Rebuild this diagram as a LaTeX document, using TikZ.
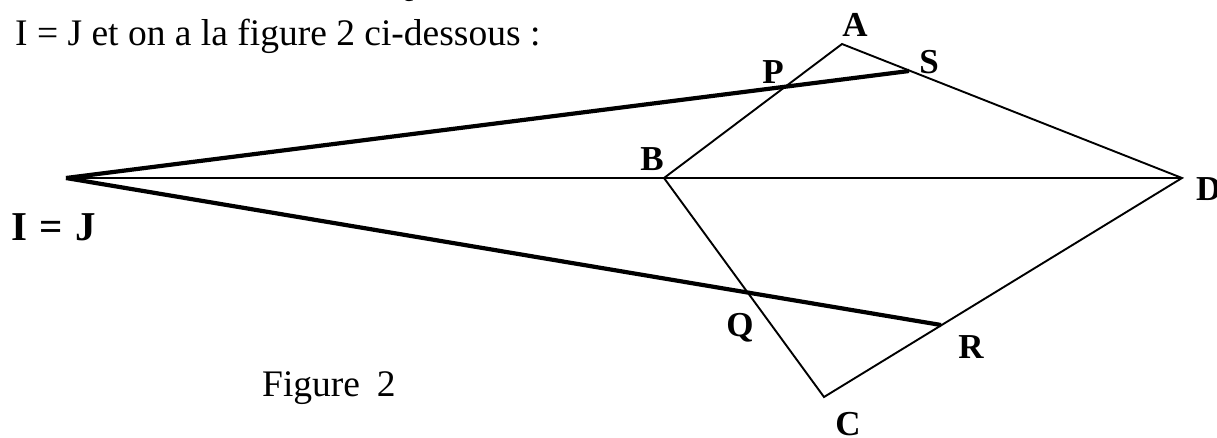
\documentclass[tikz,border=0pt]{standalone}
\usepackage{fontspec}
\setmainfont{Liberation Serif}
\tikzset{
  thinline/.style={line width=1.9pt, line join=miter},
  thickline/.style={line width=4.2pt},
  lbl/.style={font=\fontsize{35}{35}\selectfont\bfseries, inner sep=0pt},
  txt/.style={font=\fontsize{37.5}{37.5}\selectfont, inner sep=0pt},
}
\begin{document}
\begin{tikzpicture}[x=1pt,y=-1pt]
\useasboundingbox (0,0) rectangle (1217,437);
\clip (0,0) rectangle (1217,437);
% points
\coordinate (I) at (66,178);
\coordinate (B) at (664,178);
\coordinate (D) at (1182,178);
\coordinate (A) at (842,44);
\coordinate (S) at (909,71);
\coordinate (C) at (824,397);
\coordinate (R) at (941,325);
% lines
\draw[thinline] (B) -- (A) -- (D) -- (C) -- cycle;
\draw[thinline] (I) -- (D);
\draw[thickline] (I) -- (S);
\draw[thickline] (I) -- (R);
% texts
\node[txt, anchor=base west] (title) at (15,45) {I = J et on a la figure 2 ci-dessous :};
\node[font=\fontsize{44}{44}\selectfont, inner sep=0pt, anchor=base west] (topq) at (382,-6) {Q};
\node[txt, anchor=base west] (fig) at (262,396) {Figure\hspace{0.45em}2};
\node[lbl] (lA) at (855,25) {A};
\node[lbl] (lS) at (929,62) {S};
\node[lbl] (lP) at (773,72) {P};
\node[lbl] (lB) at (652,159) {B};
\node[lbl, anchor=west] (lD) at (1196,189) {D};
\node[lbl] (lQ) at (740,328) {Q};
\node[lbl] (lR) at (971,347) {R};
\node[lbl] (lC) at (848,424) {C};
\node[font=\fontsize{41}{41}\selectfont\bfseries, inner sep=0pt, anchor=west] (lIJ) at (11,227) {I\hspace{0.3em}=\hspace{0.3em}J};
\end{tikzpicture}
\end{document}
